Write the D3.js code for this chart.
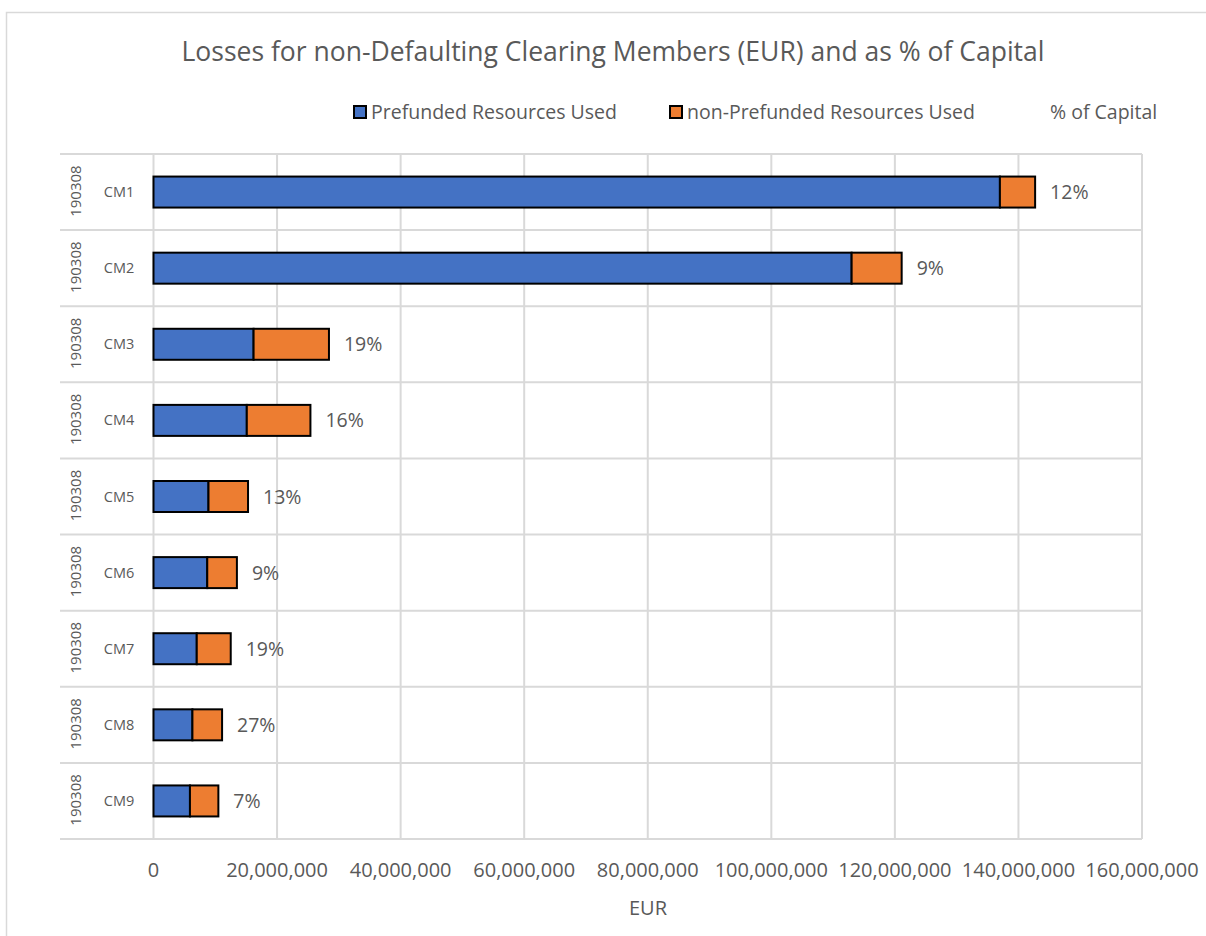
<!DOCTYPE html>
<html>
<head>
<meta charset="utf-8">
<script src="https://cdn.jsdelivr.net/npm/d3@7"></script>
<style>
  body { margin: 0; background: #fff; }
  svg text { font-family: "Open Sans", "Noto Sans", sans-serif; fill: #595959; }
</style>
</head>
<body>
<div id="chart"></div>
<script>
var categories = ['CM1', 'CM2', 'CM3', 'CM4', 'CM5', 'CM6', 'CM7', 'CM8', 'CM9'];
var dateLabels = ['190308', '190308', '190308', '190308', '190308', '190308', '190308', '190308', '190308'];
var prefunded = [137000000, 113000000, 16200000, 15100000, 8900000, 8700000, 7000000, 6300000, 5900000];
var nonPrefunded = [5700000, 8100000, 12200000, 10300000, 6400000, 4800000, 5500000, 4800000, 4600000];
var pctCapital = [12, 9, 19, 16, 13, 9, 19, 27, 7];
var xTicks = [0, 20000000, 40000000, 60000000, 80000000, 100000000, 120000000, 140000000, 160000000];
var seriesNames = ['Prefunded Resources Used', 'non-Prefunded Resources Used', '% of Capital'];
var colors = ['#4472c4', '#ed7d31'];

function drawChart() {
  var W = 1206, H = 936;
  var plotL = 153.5, plotR = 1142, plotT = 154, plotB = 839;

  var svg = d3.select('#chart').append('svg')
    .attr('width', W)
    .attr('height', H);

  // chart border (cropped on right/bottom)
  svg.append('rect')
    .attr('x', 6.5).attr('y', 12.5)
    .attr('width', W + 10).attr('height', H + 10)
    .attr('fill', 'none')
    .attr('stroke', '#d9d9d9')
    .attr('stroke-width', 1.5);

  var x = d3.scaleLinear().domain([0, 160000000]).range([plotL, plotR]);
  var y = d3.scaleBand().domain(categories).range([plotT, plotB]);

  // vertical gridlines
  svg.append('g').selectAll('line')
    .data(xTicks)
    .enter().append('line')
    .attr('x1', function(d) { return x(d); })
    .attr('x2', function(d) { return x(d); })
    .attr('y1', plotT)
    .attr('y2', plotB)
    .attr('stroke', '#d9d9d9')
    .attr('stroke-width', 2);

  // horizontal category lines
  var hLines = categories.map(function(c) { return y(c); }).concat([plotB]);
  svg.append('g').selectAll('line')
    .data(hLines)
    .enter().append('line')
    .attr('x1', 60)
    .attr('x2', plotR)
    .attr('y1', function(d) { return d; })
    .attr('y2', function(d) { return d; })
    .attr('stroke', '#d9d9d9')
    .attr('stroke-width', 2);

  // x tick labels
  svg.append('g').selectAll('text')
    .data(xTicks)
    .enter().append('text')
    .attr('x', function(d) { return x(d); })
    .attr('y', 877)
    .attr('text-anchor', 'middle')
    .attr('font-size', 20)
    .text(function(d) { return d3.format(',')(d); });

  svg.append('text')
    .attr('x', 648).attr('y', 915)
    .attr('text-anchor', 'middle')
    .attr('font-size', 20)
    .text('EUR');

  // category labels
  var rows = svg.append('g').selectAll('g')
    .data(categories)
    .enter().append('g');

  rows.append('text')
    .attr('x', 119)
    .attr('y', function(d) { return y(d) + y.bandwidth() / 2 + 5; })
    .attr('text-anchor', 'middle')
    .attr('font-size', 14.5)
    .text(function(d) { return d; });

  rows.append('text')
    .attr('transform', function(d) {
      return 'translate(81,' + (y(d) + y.bandwidth() / 2 - 1) + ') rotate(-90)';
    })
    .attr('text-anchor', 'middle')
    .attr('font-size', 15)
    .text(function(d, i) { return dateLabels[i]; });

  // stacked bars
  var barH = 31;
  var stackData = categories.map(function(c, i) {
    return {cat: c, pre: prefunded[i], non: nonPrefunded[i], pct: pctCapital[i]};
  });

  var bars = svg.append('g').selectAll('g')
    .data(stackData)
    .enter().append('g');

  bars.append('rect')
    .attr('x', function(d) { return x(0); })
    .attr('y', function(d) { return y(d.cat) + (y.bandwidth() - barH) / 2; })
    .attr('width', function(d) { return x(d.pre) - x(0); })
    .attr('height', barH)
    .attr('fill', colors[0])
    .attr('stroke', '#000')
    .attr('stroke-width', 2);

  bars.append('rect')
    .attr('x', function(d) { return x(d.pre); })
    .attr('y', function(d) { return y(d.cat) + (y.bandwidth() - barH) / 2; })
    .attr('width', function(d) { return x(d.pre + d.non) - x(d.pre); })
    .attr('height', barH)
    .attr('fill', colors[1])
    .attr('stroke', '#000')
    .attr('stroke-width', 2);

  bars.append('text')
    .attr('x', function(d) { return x(d.pre + d.non) + 15; })
    .attr('y', function(d) { return y(d.cat) + y.bandwidth() / 2 + 7; })
    .attr('font-size', 19.5)
    .text(function(d) { return d.pct + '%'; });

  // title
  svg.append('text')
    .attr('x', 613).attr('y', 61)
    .attr('text-anchor', 'middle')
    .attr('font-size', 26.5)
    .text('Losses for non-Defaulting Clearing Members (EUR) and as % of Capital');

  // legend
  var legendX = [354, 670, 1050];
  var legend = svg.append('g').selectAll('g')
    .data(seriesNames)
    .enter().append('g')
    .attr('transform', function(d, i) { return 'translate(' + legendX[i] + ',112)'; });

  legend.filter(function(d, i) { return i < 2; })
    .append('rect')
    .attr('x', 0).attr('y', -6)
    .attr('width', 12).attr('height', 12)
    .attr('fill', function(d, i) { return colors[i]; })
    .attr('stroke', '#000')
    .attr('stroke-width', 2);

  legend.append('text')
    .attr('x', function(d, i) { return i < 2 ? 17 : 0; })
    .attr('y', 6.5)
    .attr('font-size', 19.5)
    .text(function(d) { return d; });
}

drawChart();
</script>
</body>
</html>
